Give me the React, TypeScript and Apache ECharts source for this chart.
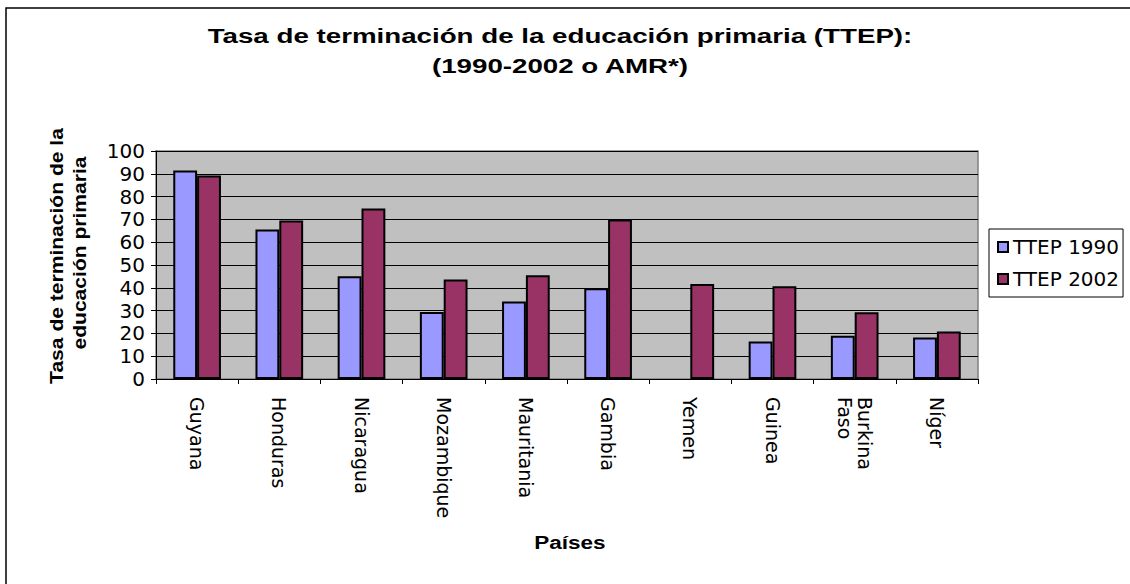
import React, { useEffect, useRef } from "react";
import * as echarts from "echarts";

const countries = ["Guyana", "Honduras", "Nicaragua", "Mozambique", "Mauritania", "Gambia", "Yemen", "Guinea", "Burkina\nFaso", "Níger"];
const ttep1990: (number | null)[] = [91.4, 65.6, 45.1, 29.4, 34.0, 39.8, null, 16.4, 19.0, 18.2];
const ttep2002: number[] = [89.2, 69.5, 74.8, 43.6, 45.5, 70.0, 41.7, 40.7, 29.3, 20.8];
const seriesNames = ["TTEP 1990", "TTEP 2002"];
const titleLines = ["Tasa de terminación de la educación primaria (TTEP):", "(1990-2002 o AMR*)"];
const yTitleLines = ["Tasa de terminación de la", "educación primaria"];
const xTitle = "Países";

const FONT = "'Liberation Sans', Arial, sans-serif";
const WIDE = "'DejaVu Sans', sans-serif";

export default function App() {
  const ref = useRef<HTMLDivElement>(null);
  useEffect(() => {
    const chart = echarts.init(ref.current!, null, { renderer: "svg" });
    chart.setOption({
      animation: false,
      backgroundColor: "#ffffff",
      textStyle: { fontFamily: FONT },
      graphic: [
        { type: "rect", shape: { x: 6, y: 8, width: 1130, height: 600 }, style: { fill: "none", stroke: "#000", lineWidth: 1.5 }, silent: true },
        { type: "text", x: 560, y: 36, scaleX: 1.32, style: { text: titleLines[0], font: `bold 21px ${FONT}`, align: "center", verticalAlign: "middle", fill: "#000" } },
        { type: "text", x: 560, y: 66, scaleX: 1.32, style: { text: titleLines[1], font: `bold 21px ${FONT}`, align: "center", verticalAlign: "middle", fill: "#000" } },
        { type: "text", x: 57, y: 256, rotation: Math.PI / 2, scaleX: 1.17, style: { text: yTitleLines[0], font: `bold 18px ${FONT}`, align: "center", verticalAlign: "middle", fill: "#000" } },
        { type: "text", x: 80, y: 253, rotation: Math.PI / 2, scaleX: 1.17, style: { text: yTitleLines[1], font: `bold 18px ${FONT}`, align: "center", verticalAlign: "middle", fill: "#000" } },
        { type: "text", x: 570, y: 543, scaleX: 1.25, style: { text: xTitle, font: `bold 18px ${FONT}`, align: "center", verticalAlign: "middle", fill: "#000" } },
      ],
      legend: {
        orient: "vertical",
        left: 989,
        top: 229,
        padding: [6, 4, 6, 8],
        backgroundColor: "#fff",
        borderColor: "#000",
        borderWidth: 1,
        itemWidth: 10,
        itemHeight: 10,
        itemGap: 8,
        icon: "rect",
        itemStyle: { borderColor: "#000", borderWidth: 2 },
        textStyle: { fontSize: 20, color: "#000", fontFamily: WIDE, lineHeight: 24, padding: [0, 0, 0, 0] },
        data: seriesNames,
      },
      grid: {
        left: 156,
        top: 151,
        width: 822,
        height: 228,
        show: true,
        backgroundColor: "#C0C0C0",
        borderColor: "#808080",
        borderWidth: 1.5,
      },
      xAxis: {
        type: "category",
        data: countries,
        axisLine: { show: true, lineStyle: { color: "#000", width: 1 } },
        axisTick: { show: true, length: 5, lineStyle: { color: "#000" } },
        axisLabel: {
          rotate: -90,
          interval: 0,
          fontSize: 19,
          color: "#000",
          fontFamily: WIDE,
          margin: 18,
          lineHeight: 20,
        },
      },
      yAxis: {
        type: "value",
        min: 0,
        max: 100,
        interval: 10,
        axisLine: { show: true, lineStyle: { color: "#000", width: 1 } },
        axisTick: { show: true, length: 5, lineStyle: { color: "#000" } },
        axisLabel: { fontSize: 20, color: "#000", fontFamily: WIDE, margin: 11 },
        splitLine: { show: true, lineStyle: { color: "#000", width: 1 } },
      },
      series: [
        {
          name: seriesNames[0],
          type: "bar",
          data: ttep1990,
          barGap: "0%",
          barCategoryGap: "42%",
          itemStyle: { color: "#9999FF", borderColor: "#000", borderWidth: 2 },
        },
        {
          name: seriesNames[1],
          type: "bar",
          data: ttep2002,
          itemStyle: { color: "#993366", borderColor: "#000", borderWidth: 2 },
        },
      ],
    });
    return () => chart.dispose();
  }, []);
  return <div ref={ref} style={{ position: "fixed", left: 0, top: 0, width: 1130, height: 584 }} />;
}
